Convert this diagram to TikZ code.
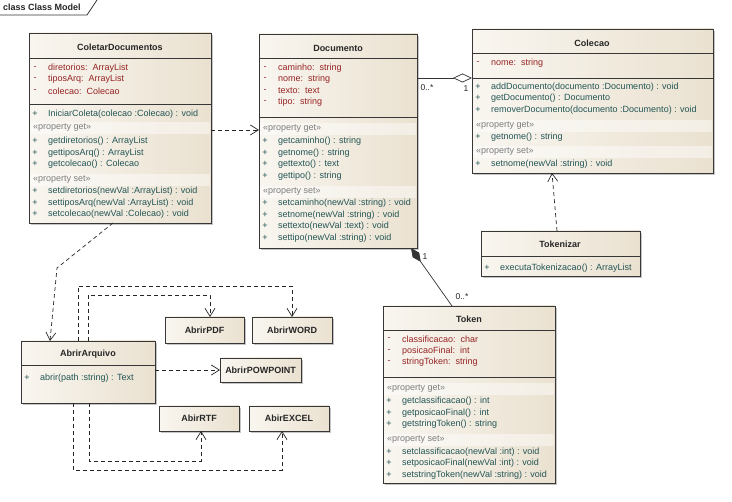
\documentclass[tikz,border=0pt]{standalone}
\usepackage{fontspec}
\setmainfont{Liberation Sans}
\usetikzlibrary{arrows.meta,shadows}
\definecolor{boxL}{RGB}{249,246,240}
\definecolor{boxR}{RGB}{234,225,208}
\definecolor{attrred}{RGB}{150,35,35}
\definecolor{opteal}{RGB}{35,85,85}
\definecolor{stereoc}{RGB}{125,125,125}
\definecolor{edgec}{RGB}{55,55,55}
\newcommand{\umlattr}[3]{\node[sym,text=attrred] at ({#1+6},#2) {-};\node[mem,text=attrred] at ({#1+19},#2) {#3};}
\newcommand{\umlop}[3]{\node[sym,text=opteal] at ({#1+6},#2) {+};\node[mem,text=opteal] at ({#1+19},#2) {#3};}
\newcommand{\umlstereo}[4]{\fill[white,opacity=0.45] ({#1+1},{#2-6}) rectangle ({#3-1},{#2+6});\node[mem,text=stereoc] at ({#1+4},#2) {#4};}
\newcommand{\umlsep}[3]{\draw[sepline] (#1,#3) -- (#2,#3);}
\begin{document}
\begin{tikzpicture}[x=1pt,y=-1pt,
  classbox/.style={draw=edgec, line width=0.8pt, left color=boxL, right color=boxR,
    drop shadow={shadow xshift=2pt,shadow yshift=-2pt,fill=black!50,opacity=0.45},
    anchor=north west, inner sep=0pt, outer sep=0pt},
  smallbox/.style={classbox, font=\fontsize{9}{11}\selectfont\bfseries, text=black!85},
  hdr/.style={font=\fontsize{9}{11}\selectfont\bfseries, text=black!85, inner sep=0pt},
  sym/.style={font=\fontsize{9}{11}\selectfont, inner sep=0pt, anchor=center},
  mem/.style={font=\fontsize{9}{11}\selectfont, inner sep=0pt, anchor=west},
  sepline/.style={draw=edgec, line width=0.8pt},
  dep/.style={draw=black!85, line width=0.7pt, dash pattern=on 4pt off 3pt, -{Straight Barb[length=8pt,width=10pt]}},
  assoc/.style={draw=black!80, line width=0.7pt},
  mult/.style={font=\fontsize{8.5}{10}\selectfont, inner sep=0pt, text=black!85}
]
\useasboundingbox (0,0) rectangle (732,502);
\fill[white] (0,0) rectangle (732,502);
% frame tab
\draw[black!80, line width=0.7pt] (0,15) -- (87,15) -- (97,0);
\node[hdr, anchor=west] (frametitle) at (3,7) {class Class Model};

% ---------- ColetarDocumentos ----------
\node[classbox, minimum width=182pt, minimum height=190pt] (coletar) at (29,33) {};
\node[hdr] (coletarT) at (120,47) {ColetarDocumentos};
\umlsep{29}{211}{58}
\umlattr{29}{68}{diretorios:\ \ ArrayList}
\umlattr{29}{79}{tiposArq:\ \ ArrayList}
\umlattr{29}{91}{colecao:\ \ Colecao}
\umlsep{29}{211}{104}
\umlop{29}{114}{IniciarColeta(colecao :Colecao) : void}
\umlstereo{29}{128}{211}{«property get»}
\umlop{29}{141}{getdiretorios() : ArrayList}
\umlop{29}{153}{gettiposArq() : ArrayList}
\umlop{29}{164}{getcolecao() : Colecao}
\umlstereo{29}{180}{211}{«property set»}
\umlop{29}{191}{setdiretorios(newVal :ArrayList) : void}
\umlop{29}{203}{settiposArq(newVal :ArrayList) : void}
\umlop{29}{214}{setcolecao(newVal :Colecao) : void}

% ---------- Documento ----------
\node[classbox, minimum width=158pt, minimum height=214pt] (documento) at (259,34) {};
\node[hdr] (documentoT) at (338,48) {Documento};
\umlsep{259}{417}{58}
\umlattr{259}{68}{caminho:\ \ string}
\umlattr{259}{79}{nome:\ \ string}
\umlattr{259}{91}{texto:\ \ text}
\umlattr{259}{102}{tipo:\ \ string}
\umlsep{259}{417}{117}
\umlstereo{259}{129}{417}{«property get»}
\umlop{259}{141}{getcaminho() : string}
\umlop{259}{153}{getnome() : string}
\umlop{259}{164}{gettexto() : text}
\umlop{259}{176}{gettipo() : string}
\umlstereo{259}{192}{417}{«property set»}
\umlop{259}{203}{setcaminho(newVal :string) : void}
\umlop{259}{215}{setnome(newVal :string) : void}
\umlop{259}{226}{settexto(newVal :text) : void}
\umlop{259}{238}{settipo(newVal :string) : void}

% ---------- Colecao ----------
\node[classbox, minimum width=241pt, minimum height=144pt] (colecao) at (472,29) {};
\node[hdr] (colecaoT) at (592,43) {Colecao};
\umlsep{472}{713}{53}
\umlattr{472}{63}{nome:\ \ string}
\umlsep{472}{713}{78}
\umlop{472}{87}{addDocumento(documento :Documento) : void}
\umlop{472}{98}{getDocumento() : Documento}
\umlop{472}{110}{removerDocumento(documento :Documento) : void}
\umlstereo{472}{126}{713}{«property get»}
\umlop{472}{137}{getnome() : string}
\umlstereo{472}{152}{713}{«property set»}
\umlop{472}{164}{setnome(newVal :string) : void}

% ---------- Tokenizar ----------
\node[classbox, minimum width=159pt, minimum height=45pt] (tokenizar) at (481,231) {};
\node[hdr] (tokenizarT) at (560,244) {Tokenizar};
\umlsep{481}{640}{256}
\umlop{481}{268}{executaTokenizacao() : ArrayList}

% ---------- Token ----------
\node[classbox, minimum width=172pt, minimum height=177pt] (token) at (383,306) {};
\node[hdr] (tokenT) at (469,319) {Token};
\umlsep{383}{555}{330}
\umlattr{383}{339}{classificacao:\ \ char}
\umlattr{383}{351}{posicaoFinal:\ \ int}
\umlattr{383}{362}{stringToken:\ \ string}
\umlsep{383}{555}{377}
\umlstereo{383}{389}{555}{«property get»}
\umlop{383}{401}{getclassificacao() : int}
\umlop{383}{413}{getposicaoFinal() : int}
\umlop{383}{424}{getstringToken() : string}
\umlstereo{383}{440}{555}{«property set»}
\umlop{383}{452}{setclassificacao(newVal :int) : void}
\umlop{383}{463}{setposicaoFinal(newVal :int) : void}
\umlop{383}{475}{setstringToken(newVal :string) : void}

% ---------- AbrirArquivo ----------
\node[classbox, minimum width=134pt, minimum height=62pt] (abrir) at (21,341) {};
\node[hdr] (abrirT) at (88,354) {AbrirArquivo};
\umlsep{21}{155}{365}
\umlop{21}{378}{abrir(path :string) : Text}

% ---------- simple classes ----------
\node[smallbox, minimum width=79pt, minimum height=26pt] (pdf) at (165,317) {AbrirPDF};
\node[smallbox, minimum width=80pt, minimum height=26pt] (word) at (252,317) {AbrirWORD};
\node[smallbox, minimum width=81pt, minimum height=24pt] (pow) at (220,358) {AbrirPOWPOINT};
\node[smallbox, minimum width=80pt, minimum height=25pt] (rtf) at (159,406) {AbirRTF};
\node[smallbox, minimum width=80pt, minimum height=25pt] (excel) at (249,406) {AbirEXCEL};

% ---------- connectors ----------
\draw[dep] (coletar.east |- 0,130) -- (documento.west |- 0,130);
\draw[dep] (coletar.south -| 113,0) -- (57,268) -- (abrir.north -| 50,0);
\draw[dep] (abrir.north -| 88,0) -- (88,295) -- (210,295) -- (pdf.north -| 210,0);
\draw[dep] (abrir.north -| 78,0) -- (78,286) -- (292,286) -- (word.north -| 292,0);
\draw[dep] (abrir.east |- 0,370) -- (pow.west |- 0,370);
\draw[dep] (abrir.south -| 89,0) -- (89,461) -- (201,461) -- (rtf.south -| 201,0);
\draw[dep] (abrir.south -| 73,0) -- (73,470) -- (282,470) -- (excel.south -| 282,0);
\draw[dep] (tokenizar.north -| 557,0) -- (colecao.south -| 552,0);

\draw[assoc, -{Diamond[open,length=19pt,width=9pt]}] (documento.east |- 0,78) -- (colecao.west |- 0,78);
\node[mult] (m1) at (427,88) {0..*};
\node[mult] (m2) at (466,89) {1};

\draw[assoc, {Diamond[length=17pt,width=8pt]}-] (documento.south -| 411,0) -- (token.north -| 452,0);
\node[mult] (m3) at (425,257) {1};
\node[mult] (m4) at (462,297) {0..*};
\end{tikzpicture}
\end{document}
